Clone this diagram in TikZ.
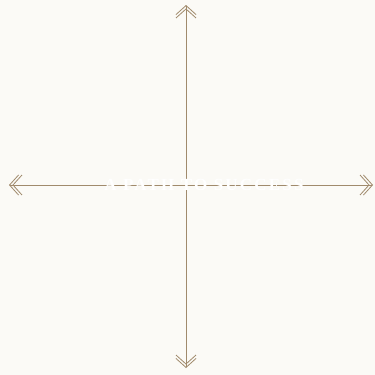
\documentclass[tikz,border=0pt]{standalone}
\usepackage{fontspec}
\setmainfont{Liberation Serif}
\usepackage{xcolor}
\usetikzlibrary{arrows.meta, positioning}
\definecolor{paper}{HTML}{FBFAF6}
\definecolor{axisbrown}{HTML}{A08A6C}

\begin{document}
\begin{tikzpicture}[x=1pt, y=-1pt,
    axis/.style={draw=axisbrown, line width=0.9pt,
      -{Straight Barb[length=9pt, width=20pt, line width=0.8pt, sep=-6.5pt] Straight Barb[length=9pt, width=20pt, line width=0.8pt]}}]
    \fill[paper] (0,0) rectangle (375,375);
    \useasboundingbox (0,0) rectangle (375,375);
    \coordinate (ctr) at (186,185);
    \coordinate (top) at (186,5);
    \coordinate (bottom) at (186,368);
    \coordinate (left) at (9,185);
    \coordinate (right) at (373,185);
    \draw[axis] (ctr) -- (left);
    \draw[axis] (ctr) -- (right);
    \draw[axis] (ctr) -- (top);
    \draw[axis] (ctr) -- (bottom);
    \node[text=white, font=\fontsize{17}{17}\bfseries\selectfont\addfontfeature{LetterSpace=13}] (title) at (204,185) {A PATH TO SUCCESS};
\end{tikzpicture}
\end{document}
